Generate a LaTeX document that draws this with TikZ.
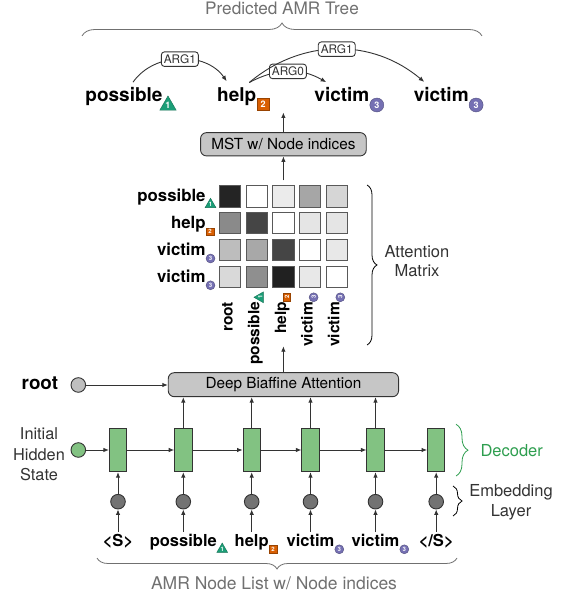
\documentclass[tikz,border=0pt]{standalone}
\usepackage{fontspec}
\setmainfont{TeX Gyre Heros}
\usetikzlibrary{arrows.meta,shapes.geometric,decorations.pathreplacing}

\definecolor{dkgreen}{HTML}{1B9E77}
\definecolor{dkorange}{HTML}{D95F02}
\definecolor{dkpurple}{HTML}{7570B3}
\definecolor{rnngreen}{HTML}{82C282}
\definecolor{decgreen}{HTML}{2E9E4F}
\definecolor{boxgray}{HTML}{C6C6C6}
\definecolor{linegray}{HTML}{333333}
\definecolor{notegray}{HTML}{707070}

\tikzset{
  word/.style={inner sep=0pt, font=\fontsize{19}{20}\selectfont\bfseries},
  rowlab/.style={inner sep=0pt, anchor=base east, font=\fontsize{16.8}{18}\selectfont\bfseries},
  collab/.style={inner sep=0pt, rotate=90, anchor=mid east, font=\fontsize{15.5}{17}\selectfont\bfseries},
  botlab/.style={inner sep=0pt, anchor=base, font=\fontsize{16.5}{18}\selectfont\bfseries},
  note/.style={inner sep=0pt, align=center, text=black!80, font=\fontsize{16.5}{19.5}\selectfont},
  arg/.style={draw=linegray, fill=white, rounded corners=3pt, inner xsep=2.5pt, inner ysep=0pt,
    minimum height=14.5pt, font=\fontsize{11.8}{12}\selectfont},
  gbox/.style={draw=linegray, fill=boxgray, rounded corners=6pt, font=\fontsize{15.3}{16}\selectfont},
  cell/.style={draw=black!65, line width=0.7pt, minimum size=21.3pt, inner sep=0pt},
  rnn/.style={draw=linegray, fill=rnngreen, minimum width=17.3pt, minimum height=43.4pt, inner sep=0pt},
  dot/.style={circle, draw=linegray, minimum size=14.6pt, inner sep=0pt},
  mk/.style={text=white, inner sep=0pt, line width=0.4pt, font=\fontsize{6}{6}\selectfont\bfseries},
  mkA/.style={mk, regular polygon, regular polygon sides=3, fill=dkgreen, draw=dkgreen!70!black, minimum size=12.5pt},
  mkB/.style={mk, rectangle, fill=dkorange, draw=dkorange!70!black, minimum size=7.5pt},
  mkC/.style={mk, circle, fill=dkpurple, draw=dkpurple!70!black, minimum size=9pt},
  big/.style={font=\fontsize{9}{9}\selectfont\bfseries},
  bigA/.style={mkA, big, minimum size=19pt},
  bigB/.style={mkB, big, minimum size=12pt},
  bigC/.style={mkC, big, minimum size=14pt},
  brc/.style={decorate, decoration={brace, amplitude=#1}, line width=0.8pt},
  arr/.style={->, draw=linegray},
  >={Latex[length=5.5pt,width=4.5pt]},
}

\begin{document}
\begin{tikzpicture}[x=1pt, y=1pt, line width=0.9pt]
        \useasboundingbox (0,0) rectangle (567,601);

        \node[note, text=notegray, anchor=base, font=\fontsize{17.2}{19}\selectfont] (tree) at (282,586) {Predicted AMR Tree};
        \draw[brc=13pt, notegray] (82,565) -- (482,565);

        \node[word, anchor=base west] (t1) at (85,499.5) {possible};
        \node[word, anchor=base west] (t2) at (216.7,499.5) {help};
        \node[word, anchor=base west] (t3) at (314,499.5) {victim};
        \node[word, anchor=base west] (t4) at (413.3,499.5) {victim};
        \node[bigA, xshift=5pt, yshift=-4pt] at (t1.base east) {1};
        \node[bigB, xshift=6.5pt, yshift=-2.6pt] at (t2.base east) {2};
        \node[bigC, xshift=7pt, yshift=-3.5pt] at (t3.base east) {3};
        \node[bigC, xshift=7pt, yshift=-3.5pt] at (t4.base east) {3};

        \path[->, color=linegray]
        ([xshift=9pt,yshift=4.7pt]t1.north) edge[out=55, in=125] node[arg]{ARG1} ([xshift=-10pt,yshift=6pt]t2.north)
        ([xshift=12.6pt,yshift=4.7pt]t2.north) edge[out=28, in=150] node[arg]{ARG0} ([xshift=-15.7pt,yshift=4.7pt]t3.north)
        ([xshift=12.6pt,yshift=4.7pt]t2.north) edge[out=40, in=140] node[arg]{ARG1} ([xshift=-17pt,yshift=5pt]t4.north)
        ;

        \node[gbox, minimum width=165.7pt, minimum height=23.3pt] (mst) at (283.4,456.7) {MST w/ Node indices};
        \path (mst.north) ++(0,19.7) coordinate (mstup);
        \draw[arr] (mst.north) -- (mstup);

        \foreach \vals [count=\r] in {{86,0,8,35,16},{46,73,0,10,10},{26,34,73,0,9},{15,44,87,9,0}} {
          \foreach \v [count=\c] in \vals
            \node[cell, fill=black!\v] (m\r\c) at ({203.3+26.7*\c},{431.5-26.8*\r}) {};
        }
        \draw[arr] ([yshift=5pt]m13.north) -- (mst.south);

        \foreach \w/\s/\n/\dx/\dy [count=\r] in {possible/mkA/1/4.5/-2.8, help/mkB/2/4/-3, victim/mkC/3/4.5/-3.2, victim/mkC/3/4.5/-3.2} {
          \node[rowlab] (r\r) at (206,{426.1-26.8*\r}) {\w};
          \node[\s, xshift=\dx pt, yshift=\dy pt] at (r\r.base east) {\n};
        }

        \node[collab] (c1) at (230,299.5) {root};
        \foreach \w/\s/\n [count=\c from 2] in {possible/mkA/1, help/mkB/2, victim/mkC/3, victim/mkC/3} {
          \node[collab] (c\c) at ({203.3+26.7*\c},299.5) {\w};
          \node[\s, rotate=90] at ([xshift=3.5pt,yshift=4.2pt]c\c.mid east) {\n};
        }

        \draw[brc=10pt] (367,416) -- (367,256);
        \node[note, font=\fontsize{16.5}{18.5}\selectfont] (attn) at (417,340) {Attention\\Matrix};

        \node[gbox, minimum width=230.3pt, minimum height=24pt] (dba) at (283.4,216.3) {Deep Biaffine Attention};
        \path (dba.north) ++(0,26) coordinate (dbaup);
        \draw[arr] (dba.north) -- (dbaup);

        \node[word, anchor=mid east, font=\fontsize{18.8}{20}\selectfont\bfseries] (root) at (58.5,214.5) {root};
        \node[dot, fill=black!25] (rootdot) at (78.3,216) {};
        \draw[arr] (rootdot.east) -- (rootdot.east -| dba.west);

        \node[note, font=\fontsize{16.3}{20.5}\selectfont] (init) at (39,146.5) {Initial\\Hidden\\State};
        \node[dot, fill=rnngreen] (h0) at (78.3,151) {};

        \foreach \x [count=\i] in {118,183.3,251.7,310.5,375.5,436.2} {
          \node[rnn] (h\i) at (\x,151) {};
          \node[dot, fill=black!55] (e\i) at (\x,99.3) {};
        }
        \foreach \w [count=\i] in {<S>,possible,help,victim,victim,</S>} {
          \node[botlab] (b\i) at (e\i |- 0,54.5) {\w};
          \draw[arr] ([yshift=2pt]b\i.north) -- (e\i);
          \draw[arr] (e\i) -- (h\i);
        }
        \foreach \i/\s/\n/\dx/\dy in {2/mkA/1/5/-2.8, 3/mkB/2/4/-2.5, 4/mkC/3/4.5/-2.8, 5/mkC/3/4.5/-2.8}
          \node[\s, xshift=\dx pt, yshift=\dy pt] at (b\i.base east) {\n};

        \draw[arr] (h0) -- (h1);
        \foreach \i [count=\j from 2] in {1,...,5}
          \draw[arr] (h\i) -- (h\j);
        \foreach \i in {2,...,5}
          \draw[arr] (h\i) -- (h\i |- dba.south);

        \draw[brc=12pt, decgreen] (456,176.7) -- (456,125);
        \node[note, text=decgreen] (dec) at (511.7,150.3) {Decoder};
        \draw[brc=9pt] (453,115) -- (453,85);
        \node[note] (emb) at (511,98.5) {Embedding\\Layer};

        \draw[brc=11pt, notegray] (457,43) -- (97,43);
        \node[note, text=notegray, anchor=base, font=\fontsize{17.5}{19}\selectfont] (list) at (274,11) {AMR Node List w/ Node indices};
    \end{tikzpicture}
\end{document}
